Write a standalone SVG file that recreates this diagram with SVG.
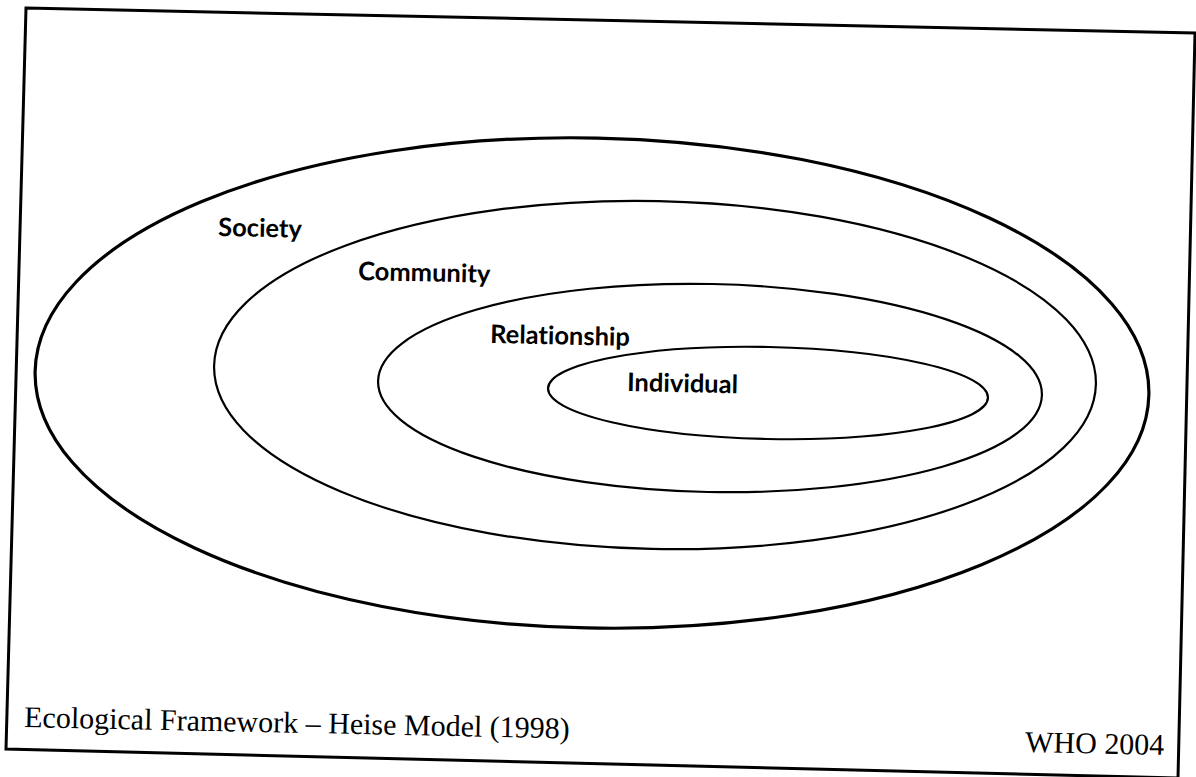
<svg xmlns="http://www.w3.org/2000/svg" width="1196" height="777" viewBox="0 0 1196 777">
  <style>
    .ring { fill: none; stroke: #000; }
    .label { font-family: Lato, "Noto Sans", sans-serif; font-weight: bold; font-size: 25.5px; fill: #000; font-variant-ligatures: none; }
    .caption { font-family: "Liberation Serif", "Times New Roman", serif; font-size: 30px; fill: #000; }
  </style>
  <rect width="1196" height="777" fill="#fff"/>

  <!-- page frame -->
  <g id="frame">
    <polygon points="26,8 1195,33 1178,778 6,749" fill="none" stroke="#000" stroke-width="3"/>
  </g>

  <!-- nested levels of the ecological model -->
  <g id="society">
    <ellipse class="ring" cx="592" cy="383" rx="557" ry="245" stroke-width="3.2" transform="rotate(1.2 592 383)"/>
    <text class="label" x="218" y="236" transform="rotate(1.2 218 236)">Society</text>
  </g>
  <g id="community">
    <ellipse class="ring" cx="655" cy="375" rx="441" ry="174" stroke-width="2.2" transform="rotate(1.2 655 375)"/>
    <text class="label" x="358" y="280" transform="rotate(1.2 358 280)">Community</text>
  </g>
  <g id="relationship">
    <ellipse class="ring" cx="710" cy="388" rx="332" ry="104" stroke-width="2.2" transform="rotate(1.2 710 388)"/>
    <text class="label" x="490" y="343" transform="rotate(1.2 490 343)">Relationship</text>
  </g>
  <g id="individual">
    <ellipse class="ring" cx="768" cy="393" rx="220" ry="46" stroke-width="2.2" transform="rotate(1.2 768 393)"/>
    <text class="label" x="627" y="391" transform="rotate(1.2 627 391)">Individual</text>
  </g>

  <!-- captions -->
  <g id="captions">
    <text class="caption" x="24" y="727" transform="rotate(1.2 24 727)">Ecological Framework – Heise Model (1998)</text>
    <text class="caption" x="1025" y="752" transform="rotate(1.2 1025 752)">WHO 2004</text>
  </g>
</svg>
